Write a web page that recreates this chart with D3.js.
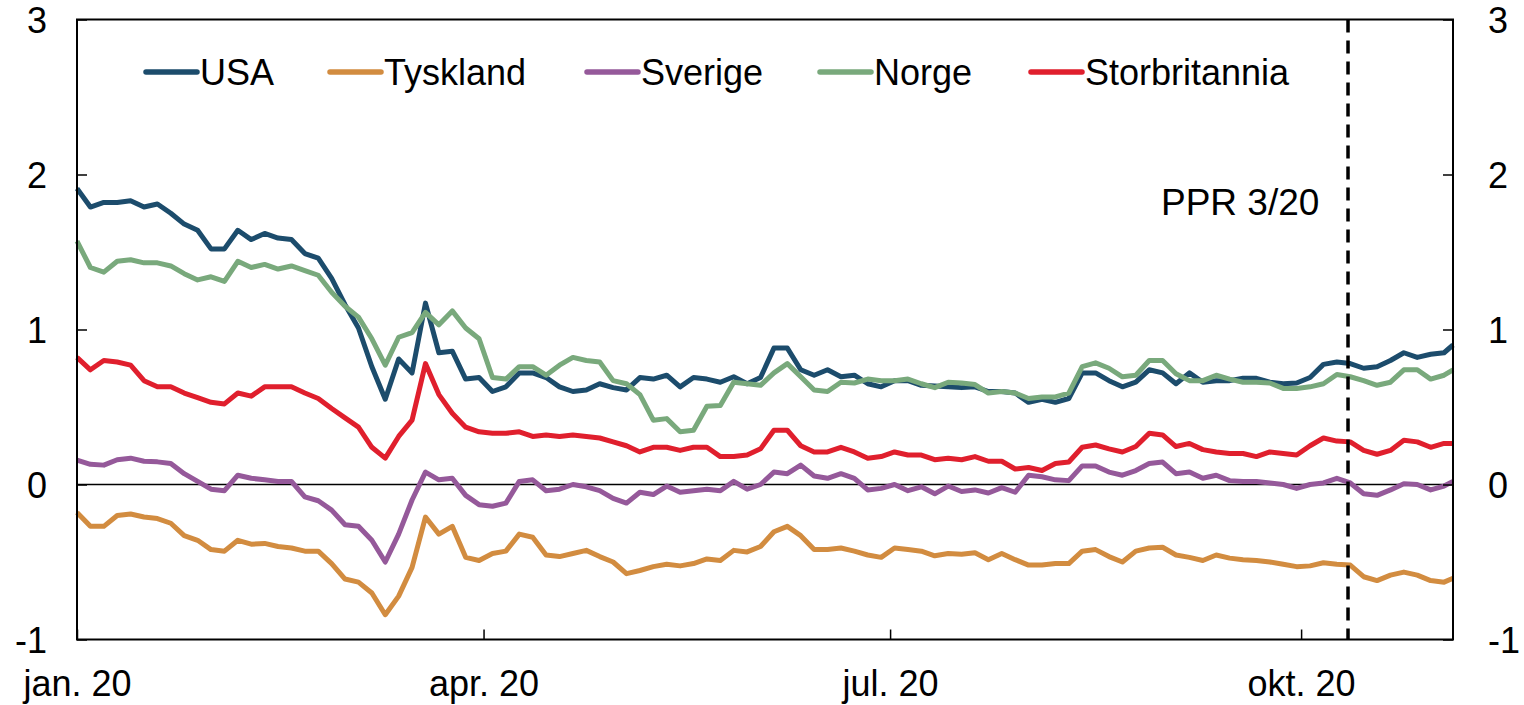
<!DOCTYPE html>
<html>
<head>
<meta charset="utf-8">
<script src="https://cdn.jsdelivr.net/npm/d3@7/dist/d3.min.js"></script>
<style>
  body { margin: 0; background: #fff; }
  svg { display: block; font-family: "Liberation Sans", Arial, sans-serif; }
  .axis path { display: none; }
  .axis line { stroke: #000; stroke-width: 1.5px; }
  .axis text { fill: #000; }
</style>
</head>
<body>
<div id="chart"></div>
<script>
// sample days, counted from 1 Jan 2020
var startDate = new Date(2020, 0, 1);
var endDate = new Date(2020, 10, 4);
var dayOffsets = d3.range(0, 307, 3).concat([308]);

var seriesNames = ["USA", "Tyskland", "Sverige", "Norge", "Storbritannia"];
var seriesColors = ["#1c4c6c", "#d28c40", "#95599a", "#79a97c", "#e01f2d"];

var usa = [1.91, 1.79, 1.82, 1.82, 1.83, 1.79, 1.81, 1.75, 1.68, 1.64,
    1.52, 1.52, 1.64, 1.58, 1.62, 1.59, 1.58, 1.49, 1.46, 1.33,
    1.16, 1.01, 0.76, 0.55, 0.81, 0.72, 1.17, 0.85, 0.86, 0.68,
    0.69, 0.60, 0.63, 0.72, 0.72, 0.69, 0.63, 0.60, 0.61, 0.65,
    0.625, 0.61, 0.69, 0.68, 0.705, 0.63, 0.69, 0.68, 0.66, 0.695,
    0.65, 0.69, 0.88, 0.88, 0.74, 0.705, 0.74, 0.695, 0.705, 0.65,
    0.63, 0.67, 0.67, 0.64, 0.635, 0.63, 0.625, 0.63, 0.60, 0.60,
    0.59, 0.53, 0.55, 0.53, 0.555, 0.72, 0.72, 0.67, 0.63, 0.66,
    0.74, 0.72, 0.65, 0.72, 0.66, 0.67, 0.67, 0.685, 0.685, 0.66,
    0.65, 0.655, 0.69, 0.775, 0.79, 0.78, 0.75, 0.76, 0.80, 0.85,
    0.82, 0.84, 0.85, 0.90];

var tyskland = [-0.18, -0.27, -0.27, -0.20, -0.19, -0.21, -0.22, -0.25, -0.33, -0.36,
    -0.42, -0.43, -0.36, -0.385, -0.38, -0.40, -0.41, -0.43, -0.43, -0.51,
    -0.61, -0.63, -0.70, -0.84, -0.72, -0.535, -0.21, -0.32, -0.27, -0.47,
    -0.49, -0.445, -0.43, -0.32, -0.34, -0.455, -0.465, -0.445, -0.425, -0.465,
    -0.50, -0.575, -0.555, -0.53, -0.515, -0.525, -0.51, -0.48, -0.49, -0.425,
    -0.435, -0.40, -0.305, -0.27, -0.33, -0.42, -0.42, -0.41, -0.43, -0.455,
    -0.47, -0.41, -0.42, -0.43, -0.46, -0.445, -0.45, -0.44, -0.485, -0.445,
    -0.485, -0.52, -0.52, -0.51, -0.51, -0.43, -0.42, -0.465, -0.50, -0.43,
    -0.41, -0.405, -0.455, -0.47, -0.49, -0.455, -0.475, -0.485, -0.49, -0.50,
    -0.515, -0.53, -0.525, -0.505, -0.515, -0.52, -0.595, -0.62, -0.585, -0.565,
    -0.585, -0.62, -0.63, -0.605];

var sverige = [0.157, 0.13, 0.125, 0.16, 0.17, 0.15, 0.146, 0.135, 0.07, 0.02,
    -0.03, -0.04, 0.06, 0.04, 0.03, 0.02, 0.02, -0.08, -0.105, -0.165,
    -0.26, -0.27, -0.36, -0.50, -0.32, -0.10, 0.08, 0.03, 0.04, -0.07,
    -0.13, -0.14, -0.12, 0.02, 0.03, -0.04, -0.03, 0.00, -0.015, -0.04,
    -0.09, -0.12, -0.05, -0.065, -0.01, -0.05, -0.04, -0.03, -0.04, 0.02,
    -0.03, 0.00, 0.08, 0.07, 0.125, 0.055, 0.04, 0.07, 0.04, -0.035,
    -0.025, 0.00, -0.04, -0.015, -0.06, -0.01, -0.045, -0.035, -0.055, -0.02,
    -0.05, 0.06, 0.05, 0.03, 0.025, 0.12, 0.12, 0.08, 0.06, 0.09,
    0.135, 0.145, 0.07, 0.08, 0.04, 0.06, 0.025, 0.02, 0.02, 0.01,
    0.00, -0.025, 0.00, 0.01, 0.04, 0.01, -0.06, -0.07, -0.035, 0.005,
    0.00, -0.035, -0.01, 0.02];

var norge = [1.57, 1.40, 1.37, 1.44, 1.45, 1.43, 1.43, 1.41, 1.36, 1.32,
    1.34, 1.31, 1.44, 1.40, 1.42, 1.39, 1.41, 1.38, 1.35, 1.24,
    1.15, 1.08, 0.94, 0.77, 0.95, 0.98, 1.11, 1.03, 1.12, 1.01,
    0.94, 0.69, 0.68, 0.76, 0.76, 0.705, 0.77, 0.82, 0.80, 0.79,
    0.67, 0.65, 0.58, 0.415, 0.425, 0.34, 0.35, 0.505, 0.51, 0.66,
    0.65, 0.64, 0.72, 0.78, 0.695, 0.61, 0.60, 0.66, 0.655, 0.68,
    0.67, 0.67, 0.68, 0.65, 0.625, 0.66, 0.655, 0.645, 0.59, 0.60,
    0.59, 0.555, 0.565, 0.565, 0.59, 0.76, 0.785, 0.75, 0.695, 0.705,
    0.80, 0.80, 0.715, 0.67, 0.67, 0.705, 0.68, 0.66, 0.66, 0.655,
    0.62, 0.62, 0.63, 0.65, 0.71, 0.695, 0.67, 0.64, 0.66, 0.74,
    0.74, 0.68, 0.705, 0.74];

var storbritannia = [0.82, 0.74, 0.80, 0.79, 0.77, 0.67, 0.63, 0.63, 0.59, 0.56,
    0.53, 0.52, 0.59, 0.57, 0.63, 0.63, 0.63, 0.59, 0.555, 0.49,
    0.43, 0.37, 0.24, 0.17, 0.31, 0.415, 0.78, 0.58, 0.46, 0.37,
    0.34, 0.33, 0.33, 0.34, 0.31, 0.32, 0.31, 0.32, 0.31, 0.30,
    0.275, 0.25, 0.21, 0.24, 0.24, 0.22, 0.24, 0.24, 0.18, 0.18,
    0.19, 0.23, 0.35, 0.35, 0.25, 0.21, 0.21, 0.24, 0.21, 0.17,
    0.18, 0.21, 0.19, 0.19, 0.16, 0.17, 0.16, 0.18, 0.15, 0.15,
    0.10, 0.11, 0.09, 0.135, 0.145, 0.24, 0.255, 0.23, 0.21, 0.245,
    0.33, 0.32, 0.245, 0.265, 0.225, 0.21, 0.20, 0.20, 0.18, 0.21,
    0.20, 0.19, 0.25, 0.30, 0.28, 0.275, 0.22, 0.195, 0.22, 0.285,
    0.275, 0.24, 0.265, 0.265];

var seriesValues = [usa, tyskland, sverige, norge, storbritannia];

var xTickDates = [new Date(2020, 0, 1), new Date(2020, 3, 1), new Date(2020, 6, 1), new Date(2020, 9, 1)];
var xTickLabels = ["jan. 20", "apr. 20", "jul. 20", "okt. 20"];
var yTicks = [-1, 0, 1, 2, 3];
var pprDate = new Date(2020, 9, 11, 12);
var pprLabel = "PPR 3/20";

var width = 1524;
var height = 705;
var plotLeft = 77, plotRight = 1453, plotTop = 19.5, plotBottom = 639.5;
var fontSize = 36;

var x = d3.scaleTime().domain([startDate, endDate]).range([plotLeft, plotRight]);
var y = d3.scaleLinear().domain([-1, 3]).range([plotBottom, plotTop]);

var svg = d3.select("#chart")
    .append("svg")
    .attr("width", width)
    .attr("height", height);

// zero line
svg.append("line")
    .attr("x1", plotLeft).attr("x2", plotRight)
    .attr("y1", y(0)).attr("y2", y(0))
    .attr("stroke", "#000")
    .attr("stroke-width", 1.5);

var line = d3.line()
    .x(function(d) { return x(d3.timeDay.offset(startDate, d.day)); })
    .y(function(d) { return y(d.value); });

seriesValues.forEach(function(values, i) {
    var pts = values.map(function(v, j) { return {day: dayOffsets[j], value: v}; });
    svg.append("path")
        .datum(pts)
        .attr("fill", "none")
        .attr("stroke", seriesColors[i])
        .attr("stroke-width", 5)
        .attr("stroke-linejoin", "round")
        .attr("d", line);
});

// PPR marker
svg.append("line")
    .attr("x1", x(pprDate)).attr("x2", x(pprDate))
    .attr("y1", plotTop).attr("y2", plotBottom)
    .attr("stroke", "#000")
    .attr("stroke-width", 3.5)
    .attr("stroke-dasharray", "13,8");

svg.append("text")
    .attr("x", 1161)
    .attr("y", 215)
    .attr("font-size", fontSize + 1)
    .text(pprLabel);

// frame
svg.append("rect")
    .attr("x", plotLeft).attr("y", plotTop)
    .attr("width", plotRight - plotLeft).attr("height", plotBottom - plotTop)
    .attr("fill", "none")
    .attr("stroke", "#000")
    .attr("stroke-width", 2);

// axes
var xAxis = d3.axisBottom(x)
    .tickValues(xTickDates)
    .tickFormat(function(d, i) { return xTickLabels[i]; })
    .tickSizeInner(-10)
    .tickSizeOuter(0);

var gX = svg.append("g")
    .attr("class", "axis")
    .attr("transform", "translate(0," + plotBottom + ")")
    .call(xAxis);
gX.selectAll("text")
    .attr("y", 56)
    .attr("dy", null)
    .attr("font-size", fontSize);

var yFormat = function(d) { return String(d); };
var yAxisL = d3.axisLeft(y).tickValues(yTicks).tickFormat(yFormat).tickSizeInner(-10).tickSizeOuter(0);
var yAxisR = d3.axisRight(y).tickValues(yTicks).tickFormat(yFormat).tickSizeInner(-10).tickSizeOuter(0);

var gYL = svg.append("g")
    .attr("class", "axis")
    .attr("transform", "translate(" + plotLeft + ",0)")
    .call(yAxisL);
gYL.selectAll("text")
    .attr("x", -30)
    .attr("dy", "0.36em")
    .attr("font-size", fontSize);

var gYR = svg.append("g")
    .attr("class", "axis")
    .attr("transform", "translate(" + plotRight + ",0)")
    .call(yAxisR);
gYR.selectAll("text")
    .attr("x", 35)
    .attr("dy", "0.36em")
    .attr("font-size", fontSize);

// legend
var legendX = [144, 328, 585, 818, 1029];
var legend = svg.append("g").attr("class", "legend");
seriesNames.forEach(function(name, i) {
    var g = legend.append("g").attr("transform", "translate(" + legendX[i] + ",0)");
    g.append("line")
        .attr("x1", 2).attr("x2", 53)
        .attr("y1", 72).attr("y2", 72)
        .attr("stroke", seriesColors[i])
        .attr("stroke-width", 5.5)
        .attr("stroke-linecap", "round");
    g.append("text")
        .attr("x", 56)
        .attr("y", 85)
        .attr("font-size", fontSize)
        .text(name);
});
</script>
</body>
</html>
